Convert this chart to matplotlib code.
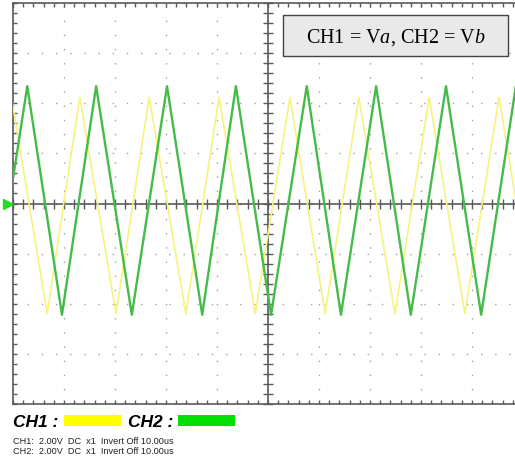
import matplotlib
matplotlib.use("Agg")
import matplotlib.pyplot as plt
from matplotlib.ticker import MultipleLocator
from matplotlib.patches import Rectangle

# ---- data (time in us, voltage in V) ----
ch2_t = [-4.1, 2.8, 9.6, 16.3, 23.3, 30.2, 37.1, 43.7, 50.6, 57.6, 64.3, 71.2,
         78.0, 84.9, 91.8, 98.6, 105.5]
ch2_v = [-4.4, 4.68, -4.44, 4.68, -4.44, 4.68, -4.44, 4.68, -4.44, 4.68, -4.44,
         4.68, -4.44, 4.68, -4.44, 4.68, -4.44]
ch1_t = [-0.3, 6.7, 13.1, 20.2, 26.7, 33.9, 40.4, 47.5, 54.3, 61.2, 67.8, 74.9,
         81.6, 88.6, 95.3, 102.2]
ch1_v = [4.24, -4.4, 4.24, -4.4, 4.24, -4.4, 4.24, -4.4, 4.24, -4.4, 4.24,
         -4.4, 4.24, -4.4, 4.24, -4.4]

ch_labels = ["CH1 :", "CH2 :"]
info_lines = ["CH1:  2.00V  DC  x1  Invert Off 10.00us",
              "CH2:  2.00V  DC  x1  Invert Off 10.00us"]
box_text = r"CH1 = V$a$, CH2 = V$b$"

W, H = 515, 460
fig = plt.figure(figsize=(W / 100, H / 100), dpi=100)
fig.patch.set_facecolor("white")

plt.rcParams["mathtext.fontset"] = "custom"
plt.rcParams["mathtext.rm"] = "Liberation Serif"
plt.rcParams["mathtext.it"] = "Liberation Serif:italic"

# axes in pixel geometry: left 13, right 523, top 4, bottom 405
L, R, T, B = 13, 523, 4, 405
pos = [L / W, (H - B) / H, (R - L) / W, (B - T) / H]
ax = fig.add_axes(pos)
ax.set_xlim(0, 100)
ax.set_ylim(-8, 8)

frame_col = "#5a5a5a"
for s in ax.spines.values():
    s.set_color(frame_col)
    s.set_linewidth(1.2)

ax.xaxis.set_major_locator(MultipleLocator(10))
ax.yaxis.set_major_locator(MultipleLocator(2))
ax.xaxis.set_minor_locator(MultipleLocator(2))
ax.yaxis.set_minor_locator(MultipleLocator(0.4))
ax.tick_params(which="both", direction="in", top=True, right=True,
               labelbottom=False, labelleft=False, color=frame_col,
               length=3, width=1)

ax.grid(True, which="major", color="#a0a0a0", linewidth=1.0,
        linestyle=(0, (1, 9.2)))

# center cross with ticks
ax2 = fig.add_axes(pos, sharex=ax, sharey=ax)
ax2.patch.set_visible(False)
ax2.spines["left"].set_position(("data", 50))
ax2.spines["bottom"].set_position(("data", 0))
ax2.spines["top"].set_visible(False)
ax2.spines["right"].set_visible(False)
for k in ("left", "bottom"):
    ax2.spines[k].set_color(frame_col)
    ax2.spines[k].set_linewidth(1.2)
ax2.tick_params(which="both", direction="inout", labelbottom=False,
                labelleft=False, color=frame_col, length=7, width=1)
ax2.xaxis.set_minor_locator(MultipleLocator(2))
ax2.yaxis.set_minor_locator(MultipleLocator(0.4))

# traces
ax2.plot(ch1_t, ch1_v, color="#f4f47e", lw=1.2, solid_joinstyle="round", zorder=3)
ax2.plot(ch2_t, ch2_v, color="#45bb4a", lw=1.7, solid_joinstyle="round", zorder=4)

# trigger marker
ax2.plot([-0.009], [0], marker=">", color="#22dd22", markersize=7, ls="none",
         clip_on=False, transform=ax2.get_yaxis_transform(), zorder=5)

# annotation box
fig.patches.append(Rectangle((283 / W, 1 - 57 / H), (508 - 283) / W, (57 - 16) / H,
                             transform=fig.transFigure, facecolor="#e9e9e9",
                             edgecolor="#444444", linewidth=1.0, zorder=10))
fig.text((283 + 508) / 2 / W, 1 - 37.5 / H, box_text, ha="center", va="center",
         fontsize=14.5, family="Liberation Serif", zorder=11)

# bottom legend
fig.text(13 / W, 1 - 427 / H, ch_labels[0], fontsize=12.5, fontweight="bold",
         fontstyle="italic", family="Liberation Sans", va="baseline")
fig.patches.append(Rectangle((64 / W, 1 - 427 / H), 57 / W, 11 / H,
                             transform=fig.transFigure, facecolor="#ffff00",
                             edgecolor="none"))
fig.text(128 / W, 1 - 427 / H, ch_labels[1], fontsize=12.5, fontweight="bold",
         fontstyle="italic", family="Liberation Sans", va="baseline")
fig.patches.append(Rectangle((178 / W, 1 - 427 / H), 57 / W, 11 / H,
                             transform=fig.transFigure, facecolor="#00e000",
                             edgecolor="none"))
fig.text(13 / W, 1 - 444 / H, info_lines[0], fontsize=6.6,
         family="Liberation Sans", va="baseline", color="#222222")
fig.text(13 / W, 1 - 454 / H, info_lines[1], fontsize=6.6,
         family="Liberation Sans", va="baseline", color="#222222")

fig.savefig("out.png", dpi=100)
